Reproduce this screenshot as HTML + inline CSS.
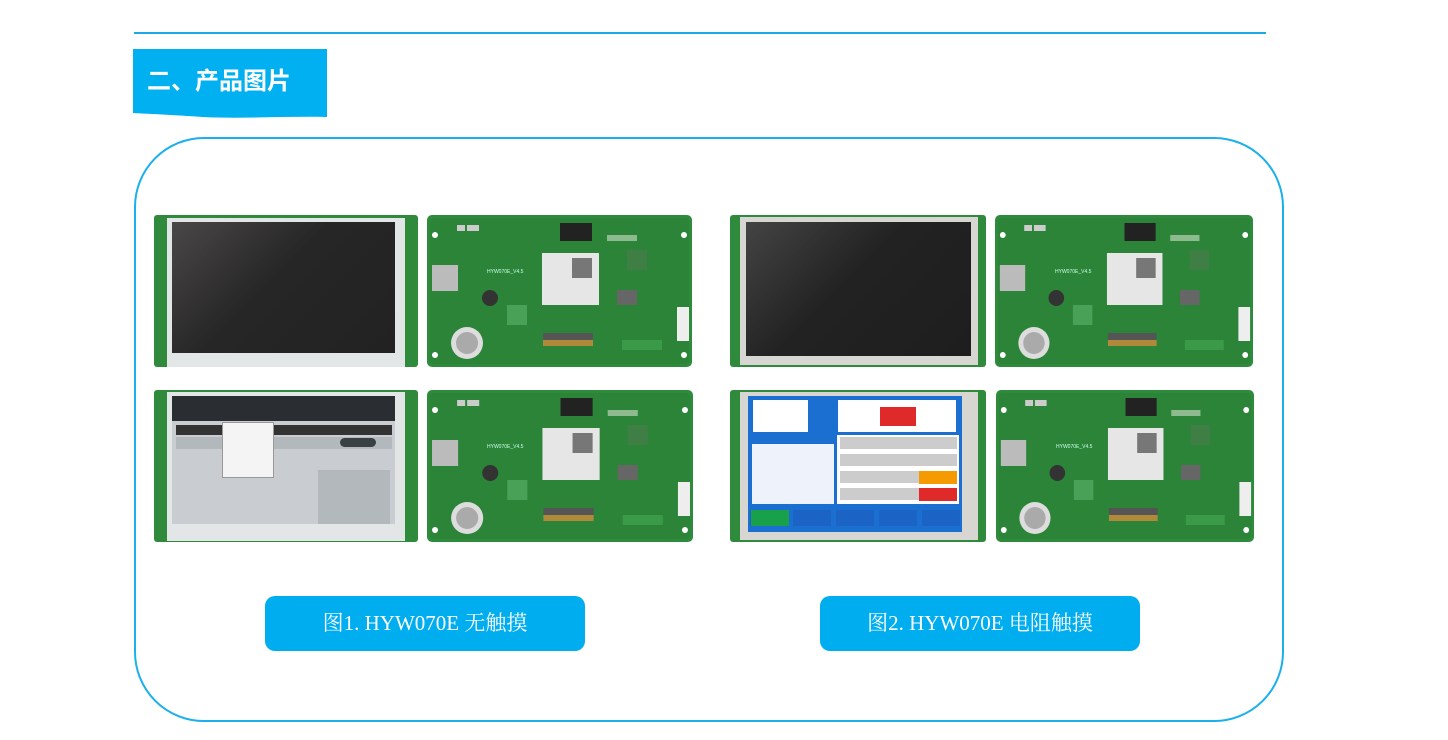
<!DOCTYPE html>
<html><head><meta charset="utf-8"><style>
*{margin:0;padding:0;box-sizing:border-box}
body{width:1448px;height:740px;background:#fff;position:relative;overflow:hidden;font-family:"Liberation Sans","Noto Sans CJK SC",sans-serif}
.a{position:absolute}
.btn{position:absolute;background:#00adef;border-radius:10px;color:#fff;font-family:"Liberation Serif","Noto Serif CJK SC",serif;font-size:21px;text-align:center;line-height:55px;width:320px;height:55px;top:596px}
</style></head><body>
<div class="a" style="left:134px;top:32px;width:1132px;height:2px;background:#1aa9e6"></div>
<svg class="a" style="left:133px;top:49px" width="195" height="70"><path d="M0 0H194V68C150 67 110 70 70 68C40 66 20 65 0 64Z" fill="#00b0f0"/><text x="14" y="40" font-family="Noto Sans CJK SC,sans-serif" font-weight="bold" font-size="24" fill="#fff">二、产品图片</text></svg>
<div class="a" style="left:134px;top:137px;width:1150px;height:585px;border:2px solid #1ab0ec;border-radius:70px"></div>

<svg width="0" height="0" style="position:absolute">
<defs>
<symbol id="back" viewBox="0 0 265 152" preserveAspectRatio="none">
<rect x="0" y="0" width="265" height="152" rx="5" fill="#2e8b3c"/>
<rect x="3" y="3" width="259" height="146" rx="4" fill="#2b8438"/>
<circle cx="8" cy="20" r="3" fill="#fff"/><circle cx="257" cy="20" r="3" fill="#fff"/>
<circle cx="8" cy="140" r="3" fill="#fff"/><circle cx="257" cy="140" r="3" fill="#fff"/>
<rect x="133" y="8" width="32" height="18" fill="#222"/>
<rect x="115" y="38" width="57" height="52" fill="#e6e6e6"/>
<rect x="145" y="43" width="20" height="20" fill="#777"/>
<rect x="5" y="50" width="26" height="26" fill="#bbb"/>
<circle cx="63" cy="83" r="8" fill="#333"/>
<circle cx="40" cy="128" r="16" fill="#ddd"/><circle cx="40" cy="128" r="11" fill="#aaa"/>
<rect x="116" y="118" width="50" height="7" fill="#555"/><rect x="116" y="125" width="50" height="6" fill="#b08a3a"/>
<rect x="250" y="92" width="12" height="34" fill="#eee"/>
<rect x="180" y="20" width="30" height="6" fill="#8fb98f"/>
<rect x="200" y="35" width="20" height="20" fill="#3f7f45"/>
<rect x="190" y="75" width="20" height="15" fill="#666"/>
<rect x="95" y="150" width="0" height="0"/>
<rect x="195" y="125" width="40" height="10" fill="#3a9a48"/>
<rect x="80" y="90" width="20" height="20" fill="#49a157"/>
<rect x="30" y="10" width="8" height="6" fill="#ccc"/><rect x="40" y="10" width="12" height="6" fill="#ccc"/>
</symbol>
</defs></svg>

<svg class="a" style="left:427px;top:215px" width="265" height="152"><use href="#back"/><text x="60" y="58" font-size="5" fill="#cfe">HYW070E_V4.5</text></svg>
<svg class="a" style="left:995px;top:215px" width="258" height="152"><use href="#back" width="258" height="152"/><text x="60" y="58" font-size="5" fill="#cfe">HYW070E_V4.5</text></svg>
<svg class="a" style="left:427px;top:390px" width="266" height="152"><use href="#back" width="266" height="152"/><text x="60" y="58" font-size="5" fill="#cfe">HYW070E_V4.5</text></svg>
<svg class="a" style="left:996px;top:390px" width="258" height="152"><use href="#back" width="258" height="152"/><text x="60" y="58" font-size="5" fill="#cfe">HYW070E_V4.5</text></svg>

<!-- front 1 -->
<div class="a" style="left:154px;top:215px;width:264px;height:152px;background:#2f8a3c;border-radius:3px"></div>
<div class="a" style="left:167px;top:218px;width:238px;height:149px;background:#e3e6e6"></div>
<div class="a" style="left:172px;top:222px;width:223px;height:131px;background:linear-gradient(135deg,#4a4748,#262626 45%,#222)"></div>
<!-- front 3 -->
<div class="a" style="left:730px;top:215px;width:256px;height:152px;background:#2f8a3c;border-radius:3px"></div>
<div class="a" style="left:740px;top:217px;width:238px;height:148px;background:#d8d6d2"></div>
<div class="a" style="left:746px;top:222px;width:225px;height:134px;background:linear-gradient(135deg,#444,#222 45%,#1e1e1e)"></div>
<!-- front 2 -->
<div class="a" style="left:154px;top:390px;width:264px;height:152px;background:#2f8a3c;border-radius:3px"></div>
<div class="a" style="left:167px;top:392px;width:238px;height:149px;background:#e3e6e6"></div>
<div class="a" style="left:172px;top:396px;width:223px;height:128px;background:#c9cdd1"></div>
<div class="a" style="left:172px;top:396px;width:223px;height:25px;background:#2a2d31"></div>
<div class="a" style="left:176px;top:425px;width:216px;height:10px;background:#333"></div>
<div class="a" style="left:176px;top:437px;width:216px;height:12px;background:#b3b8bd"></div>
<div class="a" style="left:222px;top:422px;width:52px;height:56px;background:#f4f4f4;border:1px solid #999"></div>
<div class="a" style="left:340px;top:438px;width:36px;height:9px;background:#3b4045;border-radius:5px"></div>
<div class="a" style="left:318px;top:470px;width:72px;height:54px;background:#b3b8bd"></div>
<!-- front 4 -->
<div class="a" style="left:730px;top:390px;width:256px;height:152px;background:#2f8a3c;border-radius:3px"></div>
<div class="a" style="left:740px;top:392px;width:238px;height:148px;background:#d8d6d2"></div>
<div class="a" style="left:748px;top:396px;width:214px;height:136px;background:#1a6fd0"></div>
<div class="a" style="left:753px;top:400px;width:55px;height:32px;background:#fff"></div>
<div class="a" style="left:838px;top:400px;width:118px;height:32px;background:#fff"></div>
<div class="a" style="left:880px;top:407px;width:36px;height:19px;background:#e02a2a"></div>
<div class="a" style="left:752px;top:434px;width:82px;height:70px;background:#eef3fb"></div>
<div class="a" style="left:752px;top:434px;width:82px;height:10px;background:#1a6fd0"></div>
<div class="a" style="left:837px;top:435px;width:122px;height:69px;background:#fff"></div>
<div class="a" style="left:840px;top:437px;width:117px;height:65px;background:repeating-linear-gradient(#ccc 0 12px,#fff 12px 17px)"></div>
<div class="a" style="left:919px;top:471px;width:38px;height:13px;background:#f59a00"></div>
<div class="a" style="left:919px;top:488px;width:38px;height:13px;background:#e02a2a"></div>
<div class="a" style="left:750px;top:510px;width:210px;height:16px;background:repeating-linear-gradient(90deg,#1b63c4 0 38px,#1a6fd0 38px 43px)"></div>
<div class="a" style="left:751px;top:510px;width:38px;height:16px;background:#18a04a"></div>

<div class="btn" style="left:265px">图1. HYW070E 无触摸</div>
<div class="btn" style="left:820px">图2. HYW070E 电阻触摸</div>
</body></html>
